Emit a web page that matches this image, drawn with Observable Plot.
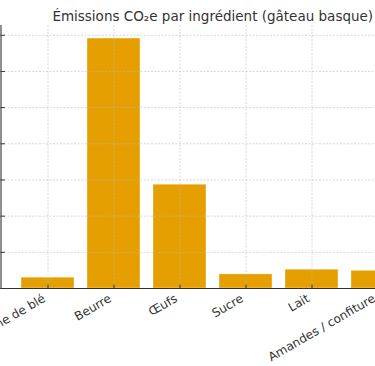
<!DOCTYPE html>
<html>
<head>
<meta charset="utf-8">
<script src="https://cdn.jsdelivr.net/npm/d3@7"></script>
<script src="https://cdn.jsdelivr.net/npm/@observablehq/plot@0.6"></script>
<style>
  html, body { margin: 0; padding: 0; background: #fff; overflow: hidden; width: 375px; height: 366px; }
  #chart svg { max-width: none !important; width: 430px !important; height: 366px !important; }
</style>
</head>
<body>
<div id="chart"></div>
<script>
const title = "Émissions CO₂e par ingrédient (gâteau basque)";
const categories = ["Farine de blé", "Beurre", "Œufs", "Sucre", "Lait", "Amandes / confiture"];
const values = [0.30, 6.91, 2.87, 0.39, 0.52, 0.49];
const yTicks = [0, 1, 2, 3, 4, 5, 6, 7];
const yMax = 7.27;

const data = categories.map((c, i) => ({cat: c, val: values[i]}));
const tickShape = {draw(context, l) { context.moveTo(0, 0); context.lineTo(0, -l); }};
const ink = "#333333";

const chart = Plot.plot({
  width: 430,
  height: 366,
  marginLeft: 0.5,
  marginRight: 6,
  marginTop: 25,
  marginBottom: 78,
  style: {fontFamily: "DejaVu Sans", background: "transparent", overflow: "visible"},
  x: {domain: categories, paddingInner: 0.2, paddingOuter: 0.29, axis: null},
  y: {domain: [0, yMax], axis: null},
  marks: [
    Plot.barY(data, {x: "cat", y: "val", fill: "#E69F00", stroke: "#ffffff", strokeOpacity: 0.6, strokeWidth: 0.6}),
    Plot.ruleX(categories, {stroke: "#b8b8b8", strokeOpacity: 0.7, strokeDasharray: "2,1.5", strokeWidth: 0.8}),
    Plot.ruleY(yTicks.slice(1), {stroke: "#b8b8b8", strokeOpacity: 0.7, strokeDasharray: "2,1.5", strokeWidth: 0.8}),
    Plot.vector(categories, {x: d => d, frameAnchor: "bottom", length: 3.5, rotate: 0, anchor: "start", shape: tickShape, stroke: ink, strokeWidth: 1}),
    Plot.vector(yTicks, {y: d => d, frameAnchor: "left", length: 3.5, rotate: 90, anchor: "start", shape: tickShape, stroke: ink, strokeWidth: 1}),
    Plot.ruleY([0], {stroke: ink, strokeWidth: 1.1}),
    Plot.frame({anchor: "left", stroke: ink, strokeWidth: 1.1}),
    Plot.text(categories, {x: d => d, text: d => d, frameAnchor: "bottom", dy: 5, dx: -6, rotate: -30, textAnchor: "end", lineAnchor: "top", fontSize: 12, fill: ink}),
    Plot.text([title], {text: d => d, frameAnchor: "top", dy: -5, lineAnchor: "bottom", fontSize: 13.5, fill: ink})
  ]
});
document.getElementById("chart").appendChild(chart);
</script>
</body>
</html>
